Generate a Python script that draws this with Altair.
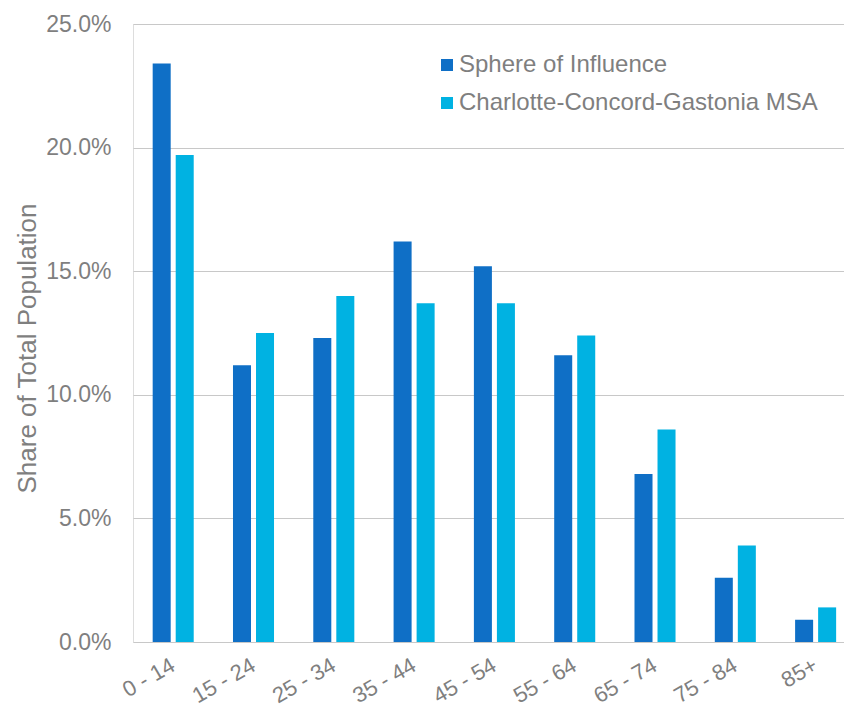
import altair as alt
import pandas as pd

# Age groups and share of total population (%) for each geography
age_groups = ["0 - 14", "15 - 24", "25 - 34", "35 - 44", "45 - 54",
              "55 - 64", "65 - 74", "75 - 84", "85+"]
sphere_share = [23.4, 11.2, 12.3, 16.2, 15.2, 11.6, 6.8, 2.6, 0.9]
msa_share = [19.7, 12.5, 14.0, 13.7, 13.7, 12.4, 8.6, 3.9, 1.4]

series_names = ["Sphere of Influence", "Charlotte-Concord-Gastonia MSA"]
series_colors = ["#0F6FC6", "#00B2E2"]

rows = []
for name, values in zip(series_names, [sphere_share, msa_share]):
    for age, v in zip(age_groups, values):
        rows.append({"Age": age, "Series": name, "Share": v / 100.0})
df = pd.DataFrame(rows)

GRAY = "#7F7F7F"
FONT = "Liberation Sans"

chart = alt.Chart(df).mark_bar().encode(
    x=alt.X(
        "Age:N",
        sort=age_groups,
        scale=alt.Scale(paddingInner=0.489, paddingOuter=0.1715, align=0.7146),
        axis=alt.Axis(
            title=None,
            labelAngle=-30,
            labelAlign="right",
            labelBaseline="middle",
            labelPadding=21,
            labelFontSize=22,
            labelColor=GRAY,
            labelFont=FONT,
            labelOverlap=False,
            labelBound=False,
            ticks=False,
            domain=False,
            grid=False,
        ),
    ),
    xOffset=alt.XOffset(
        "Series:N",
        sort=series_names,
        scale=alt.Scale(paddingInner=0.2174, paddingOuter=0),
    ),
    y=alt.Y(
        "Share:Q",
        scale=alt.Scale(domain=[0, 0.25], nice=False),
        axis=alt.Axis(
            title="Share of Total Population",
            values=[0, 0.05, 0.10, 0.15, 0.20, 0.25],
            format=".1%",
            labelFontSize=23,
            labelColor=GRAY,
            labelFont=FONT,
            labelPadding=22,
            ticks=False,
            domain=False,
            grid=True,
            gridColor="#C8C8C8",
            gridWidth=1.2,
            titleFontSize=26,
            titleFontWeight="normal",
            titleColor=GRAY,
            titleFont=FONT,
            titleAngle=270,
            titleAlign="center",
            titleBaseline="middle",
            titleX=-106,
            titleY=324,
        ),
    ),
    color=alt.Color(
        "Series:N",
        sort=series_names,
        scale=alt.Scale(domain=series_names, range=series_colors),
        legend=alt.Legend(
            title=None,
            orient="none",
            legendX=302,
            legendY=29,
            symbolType="square",
            symbolSize=144,
            symbolStrokeWidth=0,
            labelFontSize=24,
            labelColor=GRAY,
            labelFont=FONT,
            labelOffset=0,
            labelLimit=0,
            rowPadding=14,
            padding=0,
        ),
    ),
).properties(
    width=711,
    height=618,
    padding={"left": 133, "top": 24, "right": 0, "bottom": 66},
    autosize=alt.AutoSizeParams(type="none"),
).configure_view(
    stroke=None
).configure(
    background="white"
)

chart.save("out.html", embed_options={"renderer": "svg", "actions": False})
